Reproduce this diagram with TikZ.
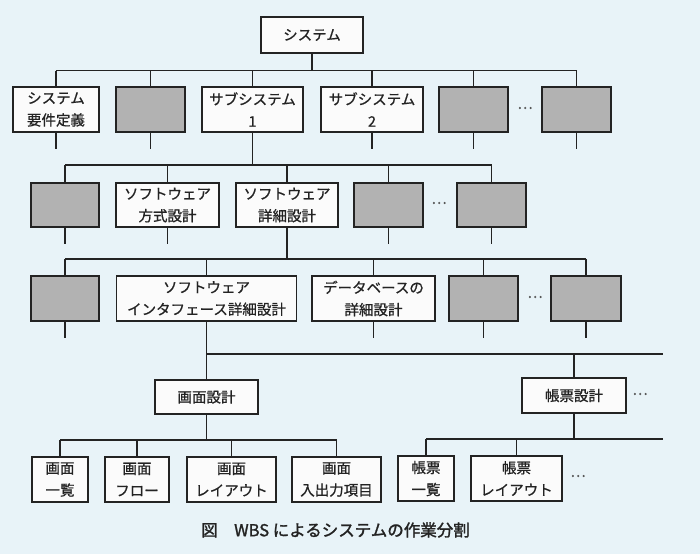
\documentclass[tikz,border=0pt]{standalone}
\usepackage{fontspec}
\newfontfamily\jp{Noto Sans CJK JP}[FakeBold=0.8]
\newfontfamily\jpcap{Noto Sans CJK JP}[FakeBold=1.6]
\usetikzlibrary{positioning}
\definecolor{wbsbg}{RGB}{232,243,248}
\definecolor{wbsgray}{RGB}{178,178,178}
\definecolor{wbsink}{RGB}{35,35,35}
\newcommand{\boxfont}{\jp\fontsize{14.5}{22}\selectfont}
\tikzset{
  wbox/.style={draw=wbsink, line width=1.6pt, fill=white!97!gray, text=wbsink,
    align=center, inner sep=0pt, font=\boxfont},
  gbox/.style={wbox, fill=wbsgray},
  wire/.style={line width=1.4pt, draw=wbsink},
  more/.style={font=\boxfont, text=wbsink!80}
}

\begin{document}
\begin{tikzpicture}[x=1pt, y=-1pt]
            \fill[wbsbg] (0,0) rectangle (700,554);
            \useasboundingbox (0,0) rectangle (700,554);

            \coordinate (bus1) at (0,70.5);
            \coordinate (bus2) at (0,165);
            \coordinate (bus3) at (0,259);
            \coordinate (bus4) at (0,354);
            \coordinate (bus5) at (0,440);
            \coordinate (bus6) at (0,439);
            \coordinate (end4) at (663,354);
            \coordinate (end6) at (663,439);

            \node[wbox, minimum width=102, minimum height=36] (sys) at (312,35) {システム};

            \node[wbox, minimum width=86, minimum height=45] (req) at (56,109.5) {システム\\要件定義};
            \node[gbox, minimum width=69, minimum height=45] (g1a) at (150.5,109.5) {};
            \node[wbox, minimum width=101, minimum height=45] (sub1) at (252.5,109.5) {サブシステム\\1};
            \node[wbox, minimum width=102, minimum height=45] (sub2) at (372,109.5) {サブシステム\\2};
            \node[gbox, minimum width=69, minimum height=45] (g1b) at (473.5,109.5) {};
            \node[more] (dots1) at (525,108) {…};
            \node[gbox, minimum width=69, minimum height=45] (g1c) at (576.5,109.5) {};

            \node[gbox, minimum width=68, minimum height=44] (g2a) at (65,205) {};
            \node[wbox, minimum width=103, minimum height=44] (arch) at (167.5,205) {ソフトウェア\\方式設計};
            \node[wbox, minimum width=102, minimum height=44] (det) at (287,205) {ソフトウェア\\詳細設計};
            \node[gbox, minimum width=69, minimum height=44] (g2b) at (388.5,205) {};
            \node[more] (dots2) at (439,203) {…};
            \node[gbox, minimum width=69, minimum height=44] (g2c) at (491.5,205) {};

            \node[gbox, minimum width=68, minimum height=45] (g3a) at (65,298.5) {};
            \node[wbox, minimum width=180, minimum height=45] (ifd) at (206.5,298.5) {ソフトウェア\\インタフェース詳細設計};
            \node[wbox, minimum width=123, minimum height=45] (dbd) at (373.5,298.5) {データベースの\\詳細設計};
            \node[gbox, minimum width=69, minimum height=45] (g3b) at (483.5,298.5) {};
            \node[more] (dots3) at (535,297) {…};
            \node[gbox, minimum width=70, minimum height=45] (g3c) at (586,298.5) {};

            \node[wbox, minimum width=103, minimum height=34] (scr) at (206.5,397) {画面設計};
            \node[wbox, minimum width=104, minimum height=35] (rep) at (574,395.5) {帳票設計};
            \node[more] (dots4) at (640,394) {…};

            \node[wbox, minimum width=56, minimum height=45] (s1) at (60,479.5) {画面\\一覧};
            \node[wbox, minimum width=64, minimum height=45] (s2) at (137,479.5) {画面\\フロー};
            \node[wbox, minimum width=89, minimum height=45] (s3) at (231.5,479.5) {画面\\レイアウト};
            \node[wbox, minimum width=89, minimum height=45] (s4) at (336.5,479.5) {画面\\入出力項目};
            \node[wbox, minimum width=56, minimum height=45] (r1) at (426,478.5) {帳票\\一覧};
            \node[wbox, minimum width=91, minimum height=45] (r2) at (516.5,478.5) {帳票\\レイアウト};
            \node[more] (dots5) at (578,476) {…};

            \node[font=\jpcap\fontsize{16.5}{18}\selectfont, text=wbsink] (cap) at (335.5,530) {図\hspace{1em}WBS によるシステムの作業分割};

            \draw[wire] (sys.south) -- (sys.south |- bus1);
            \draw[wire] (req.north |- bus1) -- (g1c.north |- bus1);
            \foreach \n in {req,g1a,sub1,sub2,g1b,g1c}
                \draw[wire] (\n.north) -- (\n.north |- bus1);

            \draw[wire] (sub1.south) -- (sub1.south |- bus2);
            \draw[wire] (g2a.north |- bus2) -- (g2c.north |- bus2);
            \foreach \n in {g2a,arch,det,g2b,g2c}
                \draw[wire] (\n.north) -- (\n.north |- bus2);

            \draw[wire] (det.south) -- (det.south |- bus3);
            \draw[wire] (g3a.north |- bus3) -- (g3c.north |- bus3);
            \foreach \n in {g3a,ifd,dbd,g3b,g3c}
                \draw[wire] (\n.north) -- (\n.north |- bus3);

            \draw[wire] (ifd.south) -- (scr.north);
            \draw[wire] (ifd.south |- bus4) -- (end4);
            \draw[wire] (rep.north) -- (rep.north |- bus4);

            \draw[wire] (scr.south) -- (scr.south |- bus5);
            \draw[wire] (s1.north |- bus5) -- (s4.north |- bus5);
            \foreach \n in {s1,s2,s3,s4}
                \draw[wire] (\n.north) -- (\n.north |- bus5);

            \draw[wire] (rep.south) -- (rep.south |- bus6);
            \draw[wire] (r1.north |- bus6) -- (end6);
            \foreach \n in {r1,r2}
                \draw[wire] (\n.north) -- (\n.north |- bus6);

            \foreach \n in {req,g1a,sub2,g1b,g1c,g2a,arch,g2b,g2c,g3a,dbd,g3b,g3c}
                \draw[wire] (\n.south) -- ++(0,16);
        \end{tikzpicture}
\end{document}
